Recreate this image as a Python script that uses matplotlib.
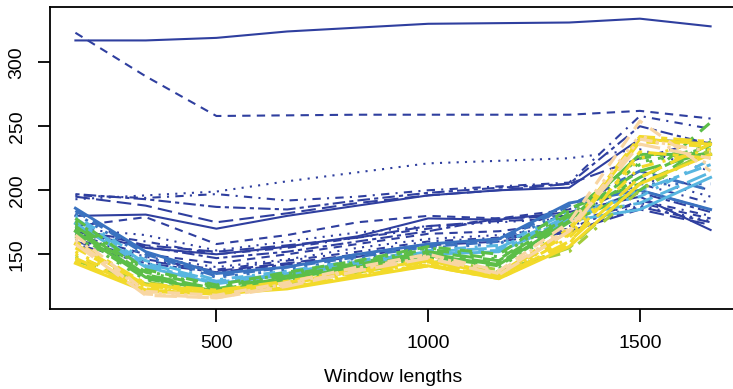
import numpy as np
import matplotlib
matplotlib.use("Agg")
import matplotlib.pyplot as plt

plt.rcParams['font.family'] = ['Liberation Sans', 'DejaVu Sans']

# window lengths on the x axis
win = [167, 333, 500, 667, 833, 1000, 1167, 1333, 1500, 1667]

# dark blue group
dark_blue = [
    [317, 317, 319, 324, 327, 330, 330.5, 331, 334, 328],
    [323, 289, 258, 258.5, 259, 259, 259, 259, 262, 256],
    [193, 196, 199, 207, 214, 221, 223, 225, 232, 215],
    [196, 194, 197, 192, 195, 200, 203, 206, 258, 248],
    [195, 188, 175, 182, 190, 196, 200, 205, 225, 240],
    [197, 193, 187, 185, 192, 198, 202, 205, 250, 236],
    [180, 181, 170, 180, 188, 196, 200, 202, 240, 237],
    [172, 179, 158, 165, 175, 180, 178, 185, 215, 200],
    [170, 165, 153, 160, 167, 172, 175, 178, 210, 195],
    [168, 160, 150, 155, 163, 170, 178, 180, 205, 190],
    [170, 157, 152, 157, 163, 172, 176, 178, 200, 185],
    [166, 156, 147, 152, 160, 168, 178, 180, 198, 183],
    [168, 155, 150, 156, 164, 178, 177, 183, 195, 169],
    [165, 150, 143, 150, 158, 166, 168, 175, 190, 178],
    [164, 148, 140, 146, 155, 162, 165, 172, 188, 176],
    [162, 146, 138, 145, 152, 160, 163, 170, 192, 180],
    [160, 145, 137, 143, 150, 158, 162, 168, 185, 173],
    [158, 143, 136, 142, 148, 157, 160, 167, 187, 175],
]

mid_blue = [
    [186, 152, 135, 140, 150, 158, 162, 190, 200, 185],
    [184, 150, 133, 140, 148, 156, 160, 188, 215, 200],
    [182, 148, 132, 138, 147, 155, 158, 185, 205, 205],
]

light_blue = [
    [180, 145, 130, 137, 145, 153, 157, 183, 195, 224],
    [178, 143, 129, 136, 144, 152, 155, 180, 190, 214],
    [176, 141, 128, 135, 143, 151, 153, 178, 200, 220],
    [174, 140, 127, 134, 142, 150, 152, 176, 185, 210],
]

green = [
    [178, 138, 126, 136, 145, 156, 150, 186, 205, 253],
    [176, 137, 125, 135, 144, 155, 148, 184, 220, 235],
    [174, 136, 124, 134, 143, 154, 146, 182, 225, 232],
    [172, 134, 123, 133, 142, 152, 145, 180, 215, 230],
    [170, 133, 122, 132, 141, 150, 143, 178, 210, 236],
    [168, 132, 121, 131, 140, 149, 142, 176, 228, 228],
    [166, 131, 121, 130, 139, 148, 141, 175, 200, 238],
    [164, 130, 120, 129, 138, 147, 140, 172, 222, 233],
]

lime = [
    [148, 128, 121, 128, 137, 146, 138, 152, 200, 232],
    [145, 127, 120, 127, 136, 145, 136, 155, 205, 230],
]

yellow = [
    [160, 127, 122, 129, 138, 146, 135, 170, 242, 238],
    [158, 126, 121, 128, 137, 145, 134, 168, 240, 236],
    [155, 125, 121, 127, 136, 144, 133, 166, 238, 234],
    [152, 124, 120, 126, 135, 143, 133, 165, 225, 240],
    [150, 123, 120, 125, 134, 142, 132, 163, 218, 232],
    [147, 122, 119, 124, 133, 142, 132, 160, 210, 236],
    [145, 122, 119, 124, 133, 141, 131, 158, 230, 225],
    [143, 121, 119, 123, 132, 141, 131, 156, 205, 228],
]

peach = [
    [165, 121, 118, 128, 140, 150, 137, 175, 254, 215],
    [163, 120, 117, 127, 139, 149, 136, 173, 243, 220],
    [161, 119, 116, 126, 138, 148, 135, 170, 240, 230],
    [158, 118, 116, 125, 137, 147, 134, 168, 236, 225],
]

groups = [
    (dark_blue, '#2f3f9f', 1.5),
    (mid_blue, '#3a72c0', 2.1),
    (light_blue, '#58b6e0', 2.1),
    (green, '#5cbe48', 2.2),
    (lime, '#a2cc3a', 2.2),
    (yellow, '#f2da2a', 2.2),
    (peach, '#f8d6a3', 2.3),
]

# R style line types, cycled like matplot
ltys = ['-', (0, (4, 3)), (0, (1, 3)), (0, (1, 3, 4, 3)), (0, (7, 3)), (0, (2, 2, 6, 2))]

fig = plt.figure(figsize=(7.33, 3.89), dpi=100)
ax = fig.add_axes([50/733, 1 - 309/389, (736 - 50)/733, (309 - 7.5)/389])

k = 0
for series, col, lw in groups:
    for s in series:
        ax.plot(win, s, color=col, lw=lw, linestyle=ltys[k % 6])
        k += 1

ax.margins(0.04)
ax.set_xticks([500, 1000, 1500])
ax.set_yticks([150, 200, 250, 300])
ax.tick_params(direction='out', length=9, width=1.3, labelsize=14)
ax.tick_params(axis='x', pad=10)
ax.tick_params(axis='y', labelrotation=90, pad=8.5)
for lab in ax.get_yticklabels():
    lab.set_va('center')
for sp in ax.spines.values():
    sp.set_linewidth(1.3)
ax.set_xlabel('Window lengths', fontsize=14, labelpad=12)

fig.savefig('out.png', dpi=100)
